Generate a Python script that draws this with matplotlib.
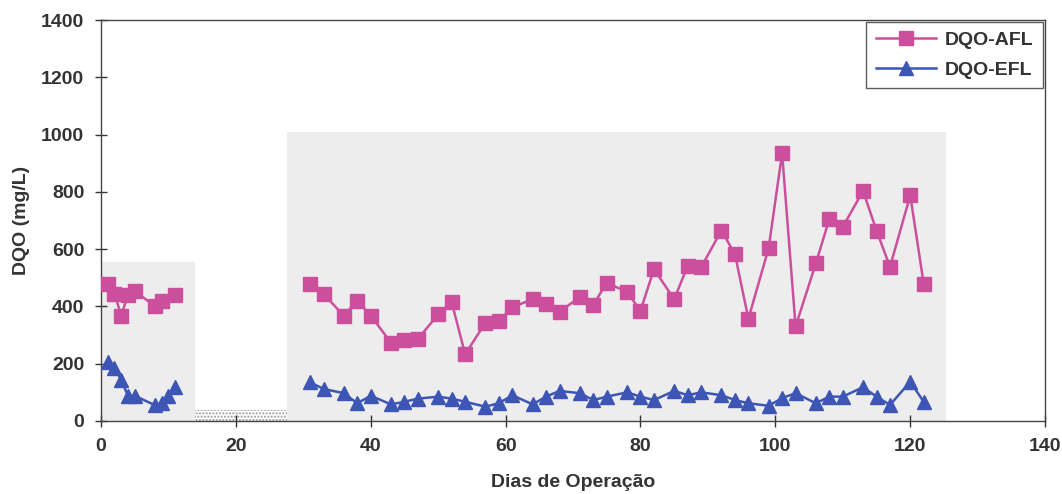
import matplotlib.pyplot as plt
from matplotlib.patches import Rectangle

# dias de operacao e valores de DQO (mg/L)
dias_afl = [1, 2, 3, 4, 5, 8, 9, 11,
            31, 33, 36, 38, 40, 43, 45, 47, 50, 52, 54, 57, 59, 61, 64, 66, 68,
            71, 73, 75, 78, 80, 82, 85, 87, 89, 92, 94, 96, 99, 101, 103, 106,
            108, 110, 113, 115, 117, 120, 122]
dqo_afl = [480, 445, 368, 440, 455, 400, 418, 440,
           478, 443, 368, 420, 368, 273, 282, 287, 372, 415, 233, 343, 350, 397,
           425, 410, 382, 432, 405, 483, 450, 385, 530, 425, 542, 537, 665, 583,
           357, 603, 935, 330, 550, 705, 678, 803, 665, 538, 788, 478]

dias_efl = [1, 2, 3, 4, 5, 8, 9, 10, 11,
            31, 33, 36, 38, 40, 43, 45, 47, 50, 52, 54, 57, 59, 61, 64, 66, 68,
            71, 73, 75, 78, 80, 82, 85, 87, 89, 92, 94, 96, 99, 101, 103, 106,
            108, 110, 113, 115, 117, 120, 122]
dqo_efl = [205, 185, 143, 88, 88, 55, 63, 88, 118,
           135, 112, 97, 62, 88, 58, 67, 78, 85, 78, 67, 50, 62, 90, 58, 85, 105,
           97, 73, 85, 100, 85, 73, 105, 90, 100, 90, 73, 62, 53, 80, 97, 62, 85,
           85, 118, 85, 56, 137, 67]

# a serie foi interrompida entre os dias 12 e 30
corte = 20

# fundos cinzentos do grafico original (x0, x1, y0, y1)
fundos = [(0, 14, 0, 555), (27.6, 125.3, 0, 1009)]
hachura = (14, 27.6, 0, 40)

plt.rcParams['font.family'] = ['Liberation Sans', 'DejaVu Sans']

fig = plt.figure(figsize=(10.62, 4.94), dpi=100)
ax = fig.add_axes([0.0951, 0.1478, 0.889, 0.8117])

for x0, x1, y0, y1 in fundos:
    ax.add_patch(Rectangle((x0, y0), x1 - x0, y1 - y0, facecolor='#ededed',
                           edgecolor='none', zorder=0))
ax.add_patch(Rectangle((hachura[0], hachura[2]), hachura[1] - hachura[0],
                       hachura[3] - hachura[2], facecolor='white',
                       edgecolor='#9a9a9a', hatch='.....', linewidth=0, zorder=0))


def serie(dias, vals, cor, mk, nome):
    a = [(d, v) for d, v in zip(dias, vals) if d < corte]
    b = [(d, v) for d, v in zip(dias, vals) if d >= corte]
    for i, seg in enumerate([a, b]):
        x, y = zip(*seg)
        ax.plot(x, y, color=cor, marker=mk, markersize=10, linewidth=1.8,
                label=nome if i == 0 else None, zorder=3)


serie(dias_afl, dqo_afl, '#cc4f9e', 's', 'DQO-AFL')
serie(dias_efl, dqo_efl, '#3d55b5', '^', 'DQO-EFL')

ax.set_xlim(0, 140)
ax.set_ylim(0, 1400)
ax.set_xticks(range(0, 141, 20))
ax.set_yticks(range(0, 1401, 200))
ax.tick_params(direction='inout', length=8, width=1, labelsize=14,
               colors='#333333', pad=8)
for lb in ax.get_xticklabels() + ax.get_yticklabels():
    lb.set_fontweight('bold')
for s in ax.spines.values():
    s.set_color('#444444')
    s.set_linewidth(1)

ax.set_xlabel('Dias de Operação', fontsize=14, fontweight='bold',
              color='#333333', labelpad=14)
ax.set_ylabel('DQO (mg/L)', fontsize=14, fontweight='bold', color='#333333',
              labelpad=8)

leg = ax.legend(loc='upper right', frameon=True, fancybox=False,
                prop={'size': 14, 'weight': 'bold'},
                edgecolor='#333333', borderaxespad=0.1, handlelength=3.1,
                handletextpad=0.45, borderpad=0.5, labelspacing=0.6)
leg.get_frame().set_linewidth(1)
for t in leg.get_texts():
    t.set_color('#333333')

fig.savefig('out.png', dpi=100)
